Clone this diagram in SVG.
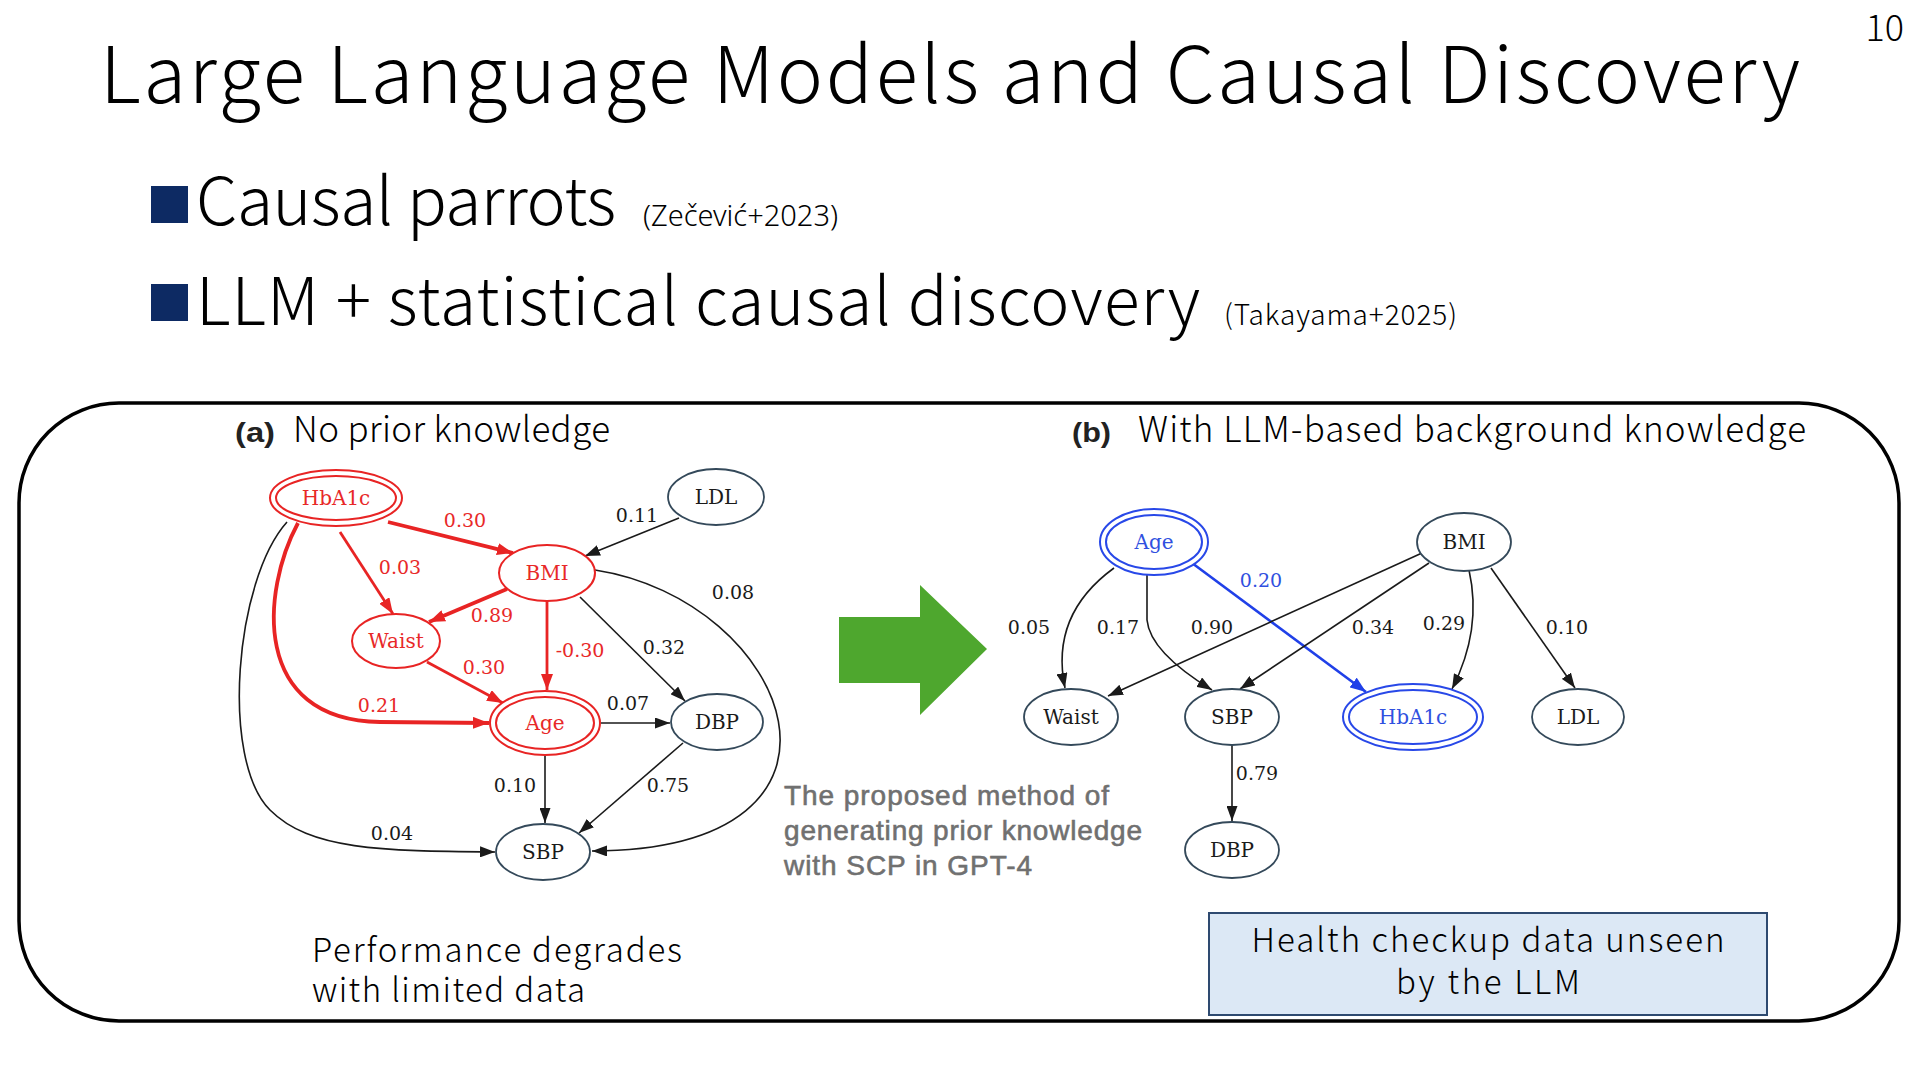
<svg xmlns="http://www.w3.org/2000/svg" width="1920" height="1080" viewBox="0 0 1920 1080">
<style>
.jp{font-family:"Noto Sans CJK JP","Noto Sans",sans-serif;font-weight:300;fill:#000}
.nd{fill:#fff;stroke:#34495a;stroke-width:1.8}
.ndr{fill:#fff;stroke:#e82424;stroke-width:2}
.ndb{fill:#fff;stroke:#2848e8;stroke-width:2}
.nl{font-family:"DejaVu Serif","Liberation Serif",serif;font-size:20px;text-anchor:middle;fill:#1a1a1a}
.nlr{fill:#e82828}
.nlb{fill:#3050e0}
.el{font-family:"DejaVu Serif","Liberation Serif",serif;font-size:19px;text-anchor:middle;fill:#1a1a1a}
.elr{fill:#e82828}
.elb{fill:#3050e0}
.ek{fill:none;stroke:#1a1a1a;stroke-width:1.6;marker-end:url(#ak)}
.er{fill:none;stroke:#e82424;stroke-width:2.8;marker-end:url(#ar)}
.erb{fill:none;stroke:#e82424;stroke-width:3.8;marker-end:url(#ar)}
.eb{fill:none;stroke:#2040e8;stroke-width:2.6;marker-end:url(#ab)}
.gray{font-family:"Liberation Sans",Arial,sans-serif;font-size:28px;fill:#707070;stroke:#707070;stroke-width:0.6}
</style>
<defs>
<marker id="ak" markerUnits="userSpaceOnUse" markerWidth="15" markerHeight="11" refX="15" refY="5.5" orient="auto"><path d="M0,0 L15,5.5 L0,11 z" fill="#1a1a1a"/></marker>
<marker id="ar" markerUnits="userSpaceOnUse" markerWidth="16" markerHeight="12" refX="16" refY="6" orient="auto"><path d="M0,0 L16,6 L0,12 z" fill="#e82424"/></marker>
<marker id="ab" markerUnits="userSpaceOnUse" markerWidth="16" markerHeight="12" refX="16" refY="6" orient="auto"><path d="M0,0 L16,6 L0,12 z" fill="#2040e8"/></marker>
</defs>
<rect width="1920" height="1080" fill="#fff"/>

<g id="title">
<text class="jp" x="100" y="103" font-size="78" textLength="1700">Large Language Models and Causal Discovery</text>
<text class="jp" x="1904" y="41" font-size="36" text-anchor="end">10</text>
</g>

<g id="bullets">
<rect x="151" y="186" width="37" height="37" fill="#0d2a63"/>
<text class="jp" x="196" y="225" font-size="66" textLength="420">Causal parrots</text>
<text x="643" y="226" font-family="Noto Sans,sans-serif" font-weight="300" font-size="29">(Zečević+2023)</text>
<rect x="151" y="284" width="37" height="37" fill="#0d2a63"/>
<text class="jp" x="196" y="325" font-size="66" textLength="1004">LLM + statistical causal discovery</text>
<text class="jp" x="1224" y="325" font-size="28" textLength="233">(Takayama+2025)</text>
</g>

<g id="panel">
<rect x="19" y="403" width="1880" height="618" rx="100" ry="100" fill="none" stroke="#000" stroke-width="3.5"/>
<text x="235" y="442" font-family="Liberation Sans,Arial,sans-serif" font-weight="bold" font-size="28" textLength="40" lengthAdjust="spacingAndGlyphs" fill="#222">(a)</text>
<text class="jp" x="293" y="442" font-size="35" textLength="317">No prior knowledge</text>
<text x="1072" y="442" font-family="Liberation Sans,Arial,sans-serif" font-weight="bold" font-size="28" textLength="39" lengthAdjust="spacingAndGlyphs" fill="#222">(b)</text>
<text class="jp" x="1138" y="442" font-size="35" textLength="668">With LLM-based background knowledge</text>
</g>

<g id="connectors">
<path class="erb" d="M388,522 L513,553"/>
<path class="ek" d="M679,518 L585,556"/>
<path class="er" d="M340,532 L393,614"/>
<path class="erb" d="M507,589 L429,622"/>
<path class="er" d="M547,601 L547,690"/>
<path class="ek" d="M580,597 L685,701"/>
<path class="ek" d="M595,570 C790,600 890,850 592,851"/>
<path class="er" d="M427,662 L503,703"/>
<path class="erb" d="M298,523 C262,590 250,720 380,722 L489,723"/>
<path class="ek" d="M601,723 L670,723"/>
<path class="ek" d="M545,755 L545,823"/>
<path class="ek" d="M683,743 L579,833"/>
<path class="ek" d="M287,522 C235,580 220,760 270,810 C310,850 380,851 495,852"/>
<path class="ek" d="M1114,568 C1070,600 1055,640 1065,688"/>
<path class="ek" d="M1147,575 L1147,620 Q1150,652 1212,690"/>
<path class="eb" d="M1192,563 L1366,692"/>
<path class="ek" d="M1422,553 L1108,696"/>
<path class="ek" d="M1429,563 L1240,689"/>
<path class="ek" d="M1469,570 C1478,610 1472,650 1452,689"/>
<path class="ek" d="M1491,568 L1575,688"/>
<path class="ek" d="M1232,745 L1232,821"/>
<text class="el elr" x="465" y="527">0.30</text>
<text class="el" x="637" y="522">0.11</text>
<text class="el elr" x="400" y="574">0.03</text>
<text class="el elr" x="492" y="622">0.89</text>
<text class="el elr" x="580" y="657">-0.30</text>
<text class="el" x="664" y="654">0.32</text>
<text class="el" x="733" y="599">0.08</text>
<text class="el elr" x="484" y="674">0.30</text>
<text class="el elr" x="379" y="712">0.21</text>
<text class="el" x="628" y="710">0.07</text>
<text class="el" x="515" y="792">0.10</text>
<text class="el" x="668" y="792">0.75</text>
<text class="el" x="392" y="840">0.04</text>
<text class="el" x="1029" y="634">0.05</text>
<text class="el" x="1118" y="634">0.17</text>
<text class="el elb" x="1261" y="587">0.20</text>
<text class="el" x="1212" y="634">0.90</text>
<text class="el" x="1373" y="634">0.34</text>
<text class="el" x="1444" y="630">0.29</text>
<text class="el" x="1567" y="634">0.10</text>
<text class="el" x="1257" y="780">0.79</text>
</g>

<g id="a-HbA1c"><ellipse class="ndr" cx="336" cy="498" rx="66" ry="28"/><ellipse class="ndr" cx="336" cy="498" rx="60" ry="22"/><text class="nl nlr" x="336" y="505">HbA1c</text></g>
<g id="a-LDL"><ellipse class="nd" cx="716" cy="497" rx="48" ry="28"/><text class="nl" x="716" y="504">LDL</text></g>
<g id="a-BMI"><ellipse class="ndr" cx="547" cy="573" rx="48" ry="28"/><text class="nl nlr" x="547" y="580">BMI</text></g>
<g id="a-Waist"><ellipse class="ndr" cx="396" cy="641" rx="44" ry="27"/><text class="nl nlr" x="396" y="648">Waist</text></g>
<g id="a-Age"><ellipse class="ndr" cx="545" cy="723" rx="55" ry="32"/><ellipse class="ndr" cx="545" cy="723" rx="49" ry="26"/><text class="nl nlr" x="545" y="730">Age</text></g>
<g id="a-DBP"><ellipse class="nd" cx="717" cy="722" rx="46" ry="28"/><text class="nl" x="717" y="729">DBP</text></g>
<g id="a-SBP"><ellipse class="nd" cx="543" cy="852" rx="47" ry="28"/><text class="nl" x="543" y="859">SBP</text></g>

<g id="arrow"><polygon points="839,617 920,617 920,585 987,649 920,715 920,683 839,683" fill="#4ea72e"/></g>
<g id="caption">
<text class="gray" x="784" y="805" textLength="325">The proposed method of</text>
<text class="gray" x="784" y="840" textLength="358">generating prior knowledge</text>
<text class="gray" x="784" y="875" textLength="248">with SCP in GPT-4</text>
</g>

<g id="b-Age"><ellipse class="ndb" cx="1154" cy="542" rx="54" ry="33"/><ellipse class="ndb" cx="1154" cy="542" rx="48" ry="27"/><text class="nl nlb" x="1154" y="549">Age</text></g>
<g id="b-BMI"><ellipse class="nd" cx="1464" cy="542" rx="47" ry="29"/><text class="nl" x="1464" y="549">BMI</text></g>
<g id="b-Waist"><ellipse class="nd" cx="1071" cy="717" rx="47" ry="28"/><text class="nl" x="1071" y="724">Waist</text></g>
<g id="b-SBP"><ellipse class="nd" cx="1232" cy="717" rx="47" ry="28"/><text class="nl" x="1232" y="724">SBP</text></g>
<g id="b-HbA1c"><ellipse class="ndb" cx="1413" cy="717" rx="70" ry="33"/><ellipse class="ndb" cx="1413" cy="717" rx="64" ry="27"/><text class="nl nlb" x="1413" y="724">HbA1c</text></g>
<g id="b-LDL"><ellipse class="nd" cx="1578" cy="717" rx="46" ry="28"/><text class="nl" x="1578" y="724">LDL</text></g>
<g id="b-DBP"><ellipse class="nd" cx="1232" cy="850" rx="47" ry="28"/><text class="nl" x="1232" y="857">DBP</text></g>

<g id="note-left">
<text class="jp" font-size="33"><tspan x="312" y="962" textLength="370">Performance degrades</tspan><tspan x="312" y="1002" textLength="273">with limited data</tspan></text>
</g>
<g id="note-right">
<rect x="1209" y="913" width="558" height="102" fill="#dce8f5" stroke="#2e4a70" stroke-width="2"/>
<text class="jp" font-size="33" text-anchor="middle"><tspan x="1488" y="952" textLength="473">Health checkup data unseen</tspan><tspan x="1488" y="994" textLength="184">by the LLM</tspan></text>
</g>
</svg>
